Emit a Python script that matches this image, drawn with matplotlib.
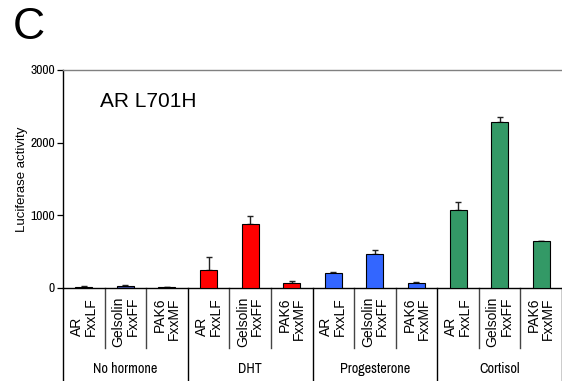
import matplotlib
matplotlib.use("Agg")
import matplotlib.pyplot as plt
from matplotlib import font_manager
from matplotlib.transforms import blended_transform_factory

# --- data -------------------------------------------------------------
hormones = ["No hormone", "DHT", "Progesterone", "Cortisol"]
peptides = ["AR\nFxxLF", "Gelsolin\nFxxFF", "PAK6\nFxxMF"]
peptide_align = ["left", "right", "right"]

activity = [
    [20, 30, 10],        # No hormone
    [250, 880, 70],      # DHT
    [210, 470, 75],      # Progesterone
    [1075, 2290, 640],   # Cortisol
]
activity_err = [
    [5, 5, 3],
    [170, 110, 20],
    [15, 50, 10],
    [110, 60, 5],
]
hormone_colors = ["#3C4A96", "#FF0000", "#3366FF", "#339966"]

y_ticks = [0, 1000, 2000, 3000]
title = "AR L701H"
y_label = "Luciferase activity"
panel = "C"

# --- fonts ------------------------------------------------------------
available = sorted({f.name for f in font_manager.fontManager.ttflist})
sans = "Liberation Sans" if "Liberation Sans" in available else "DejaVu Sans"
narrow_candidates = [n for n in available if "Narrow" in n] + \
                    [n for n in available if "Condensed" in n and "Sans" in n]
narrow = narrow_candidates[0] if narrow_candidates else None
plt.rcParams["font.family"] = [sans, "DejaVu Sans"]
if narrow:
    tick_kw = {"fontfamily": narrow, "fontsize": 9.8}
    group_kw = {"fontfamily": narrow, "fontsize": 10.2}
else:
    tick_kw = {"fontfamily": sans, "fontsize": 8.5}
    group_kw = {"fontfamily": sans, "fontsize": 8.5}

# --- figure -----------------------------------------------------------
W, H = 562, 381
fig = plt.figure(figsize=(W / 100, H / 100), dpi=100)
ax_left, ax_right, ax_top, ax_bottom = 63, 562, 70, 288
ax_w, ax_h = ax_right - ax_left, ax_bottom - ax_top
ax = fig.add_axes([ax_left / W, (H - ax_bottom) / H, ax_w / W, ax_h / H])

n_pep = len(peptides)
n_slots = len(hormones) * n_pep
bar_w = 0.41

for g, (vals, errs, col) in enumerate(zip(activity, activity_err, hormone_colors)):
    xs = [g * n_pep + i + 0.5 for i in range(n_pep)]
    ax.bar(xs, vals, width=bar_w, color=col, edgecolor="black", linewidth=0.8,
           zorder=3)
    ax.errorbar(xs, vals, yerr=[[0] * n_pep, errs], fmt="none", ecolor="#222222",
                elinewidth=1.0, capsize=2.3, capthick=1.0, zorder=2)

ax.set_xlim(0, n_slots)
ax.set_ylim(0, 3000)
ax.set_yticks(y_ticks)
ax.set_yticklabels([str(t) for t in y_ticks], **tick_kw)
ax.tick_params(axis="y", direction="out", length=4, width=0.9, pad=2)
ax.set_xticks([])

ax.spines["right"].set_visible(False)
ax.spines["top"].set_color("#808080")
ax.spines["top"].set_linewidth(1.0)
ax.spines["left"].set_linewidth(1.0)
ax.spines["bottom"].set_linewidth(1.0)

ax.set_ylabel(y_label, fontsize=9.5)
ax.yaxis.set_label_coords((28 - ax_left) / ax_w, 0.5)
ax.text((100 - ax_left) / ax_w, (ax_bottom - 107) / ax_h, title,
        transform=ax.transAxes, fontsize=15, ha="left", va="baseline")

# --- category axis ----------------------------------------------------
trans = blended_transform_factory(ax.transData, ax.transAxes)
short_end = -(348 - ax_bottom) / ax_h
long_end = -(H - ax_bottom + 2) / ax_h
label_top = -(297 - ax_bottom) / ax_h
group_y = -(369 - ax_bottom) / ax_h

for s in range(n_slots + 1):
    if s % n_pep == 0:
        ax.plot([s, s], [0, long_end], transform=trans, color="black",
                linewidth=1.0, clip_on=False)
    else:
        ax.plot([s, s], [0, short_end], transform=trans, color="#444444",
                linewidth=1.0, clip_on=False)

for g, name in enumerate(hormones):
    for i, (pep, al) in enumerate(zip(peptides, peptide_align)):
        ax.text(g * n_pep + i + 0.5, label_top, pep, transform=trans,
                rotation=90, ha="center", va="top", multialignment=al,
                fontsize=10, linespacing=1.0)
    ax.text(g * n_pep + n_pep / 2, group_y, name, transform=trans,
            ha="center", va="center", **group_kw)

fig.text(13 / W, 1 - 7 / H, panel, fontsize=32, ha="left", va="top")

fig.savefig("out.png", dpi=100)
